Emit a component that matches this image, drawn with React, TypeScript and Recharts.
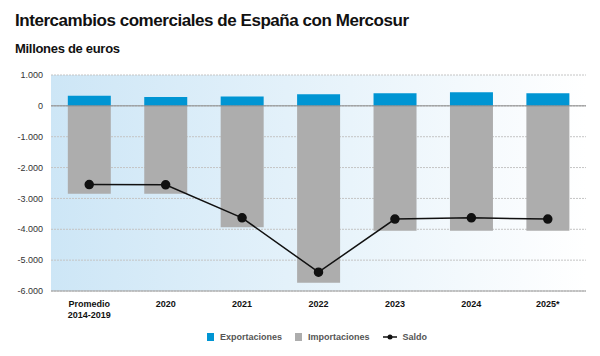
import React from "react";
import {
  ComposedChart,
  Bar,
  Line,
  XAxis,
  YAxis,
  CartesianGrid,
  ReferenceLine,
} from "recharts";

const categories = ["Promedio\n2014-2019", "2020", "2021", "2022", "2023", "2024", "2025*"];
const exportaciones = [330, 290, 300, 380, 410, 445, 410];
const importaciones = [-2850, -2850, -3930, -5730, -4050, -4050, -4050];
const saldo = [-2550, -2560, -3630, -5390, -3670, -3630, -3670];
const yTicks = [1000, 0, -1000, -2000, -3000, -4000, -5000, -6000];

const data = categories.map((c, i) => ({
  name: c,
  exportaciones: exportaciones[i],
  importaciones: importaciones[i],
  saldo: saldo[i],
}));

const COLOR_EXP = "#0095d3";
const COLOR_IMP = "#adadad";
const FONT = "'Liberation Sans', Arial, sans-serif";

function fmt(v: number) {
  const s = Math.abs(v).toString().replace(/\B(?=(\d{3})+(?!\d))/g, ".");
  return (v < 0 ? "-" : "") + s;
}

function XTick({ x, y, payload }: any) {
  const lines = String(payload.value).split("\n");
  return (
    <text x={x} y={y + 8} textAnchor="middle" fontSize={9} fontWeight={700} fill="#111" fontFamily={FONT}>
      {lines.map((l, i) => (
        <tspan key={i} x={x} dy={i === 0 ? 0 : 11}>
          {l}
        </tspan>
      ))}
    </text>
  );
}

function LegendBox() {
  const item = { display: "flex", alignItems: "center", gap: 6 } as const;
  return (
    <div
      style={{
        position: "absolute",
        top: 332,
        left: 207,
        display: "flex",
        gap: 13,
        fontFamily: FONT,
        fontSize: 9,
        fontWeight: 700,
        color: "#555",
      }}
    >
      <div style={item}>
        <span style={{ width: 7, height: 8, background: COLOR_EXP, display: "inline-block" }} />
        Exportaciones
      </div>
      <div style={item}>
        <span style={{ width: 7, height: 8, background: COLOR_IMP, display: "inline-block" }} />
        Importaciones
      </div>
      <div style={item}>
        <svg width={14} height={8}>
          <line x1={0} y1={4} x2={14} y2={4} stroke="#111" strokeWidth={1.5} />
          <circle cx={7} cy={4} r={2.5} fill="#111" />
        </svg>
        Saldo
      </div>
    </div>
  );
}

export default function App() {
  return (
    <div style={{ position: "fixed", top: 0, left: 0, width: 600, height: 356, background: "#fff", fontFamily: FONT }}>
      <div style={{ position: "absolute", top: 11, left: 15, fontSize: 17, fontWeight: 700, color: "#111", letterSpacing: -0.45 }}>
        Intercambios comerciales de España con Mercosur
      </div>
      <div style={{ position: "absolute", top: 41, left: 15, fontSize: 13, fontWeight: 700, color: "#111", letterSpacing: -0.3 }}>
        Millones de euros
      </div>
      <div style={{ position: "absolute", top: 0, left: 0 }}>
        <ComposedChart
          width={600}
          height={356}
          data={data}
          stackOffset="sign"
          barCategoryGap="22%"
          margin={{ top: 75, right: 14, bottom: 35, left: 0 }}
        >
          <defs>
            <linearGradient id="bg" x1="0" y1="0" x2="1" y2="0">
              <stop offset="0%" stopColor="#cde6f6" />
              <stop offset="100%" stopColor="#ffffff" />
            </linearGradient>
          </defs>
          <CartesianGrid vertical={false} stroke="#c4c4c4" strokeDasharray="2 1" fill="url(#bg)" fillOpacity={1} />
          <XAxis
            dataKey="name"
            tick={<XTick />}
            tickLine={false}
            axisLine={{ stroke: "#a0a0a0" }}
            height={30}
            interval={0}
          />
          <YAxis
            domain={[-6000, 1000]}
            ticks={yTicks}
            tickFormatter={fmt}
            tick={{ fontSize: 9, fill: "#333", fontFamily: FONT }}
            tickLine={false}
            axisLine={false}
            width={51}
          />
          <ReferenceLine y={0} stroke="#888" strokeWidth={1} />
          <Bar dataKey="importaciones" stackId="a" fill={COLOR_IMP} isAnimationActive={false} />
          <Bar dataKey="exportaciones" stackId="a" fill={COLOR_EXP} isAnimationActive={false} />
          <Line
            dataKey="saldo"
            type="linear"
            stroke="#111"
            strokeWidth={1.5}
            dot={{ r: 4, fill: "#111", stroke: "#111" }}
            isAnimationActive={false}
          />
        </ComposedChart>
      </div>
      <LegendBox />
    </div>
  );
}
